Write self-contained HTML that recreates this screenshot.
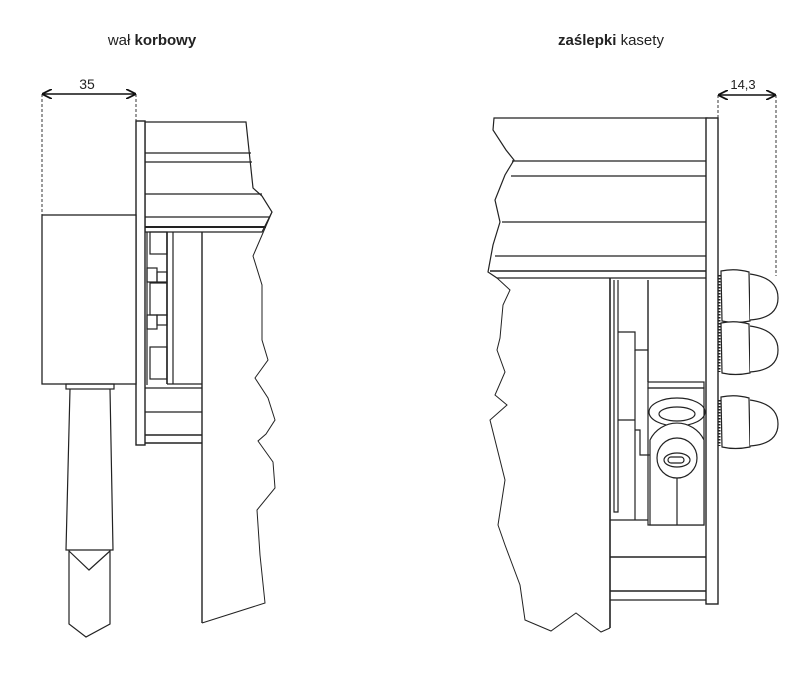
<!DOCTYPE html>
<html><head><style>
html,body{margin:0;padding:0;background:#fff;}
svg{display:block;}
text{font-family:"Liberation Sans",sans-serif;fill:#222;}
</style></head><body>
<svg width="800" height="700" viewBox="0 0 800 700" xmlns="http://www.w3.org/2000/svg">
<defs>
<marker id="ar" markerWidth="10" markerHeight="10" refX="9" refY="5" orient="auto-start-reverse" markerUnits="userSpaceOnUse">
<path d="M0,0 L10,5 L0,10" fill="none" stroke="#111" stroke-width="1.8"/>
</marker>
</defs>
<text x="152" y="45" font-size="15" text-anchor="middle">wał <tspan font-weight="bold">korbowy</tspan></text>
<text x="611" y="45" font-size="15" text-anchor="middle"><tspan font-weight="bold">zaślepki</tspan> kasety</text>
<text x="87" y="89" font-size="14" text-anchor="middle">35</text>
<text x="743" y="89" font-size="13" text-anchor="middle">14,3</text>

<g fill="none" stroke="#222" stroke-width="1.2">
<!-- LEFT dimension -->
<line x1="42" y1="94" x2="42" y2="215" stroke-dasharray="3,2" stroke-width="0.9"/>
<line x1="136" y1="94" x2="136" y2="122" stroke-dasharray="3,2" stroke-width="0.9"/>
<line x1="43" y1="94" x2="135" y2="94" stroke="#111" stroke-width="1.6" marker-start="url(#ar)" marker-end="url(#ar)"/>
<!-- top profile -->
<polygon points="145,122 246,122 253,188 262,196 272,212 262,232 145,232" fill="#fff"/>
<line x1="145" y1="153" x2="251" y2="153"/><line x1="145" y1="162" x2="252" y2="162"/>
<line x1="145" y1="194" x2="262" y2="194"/><line x1="145" y1="217" x2="270" y2="217"/>
<line x1="145" y1="227" x2="266" y2="227" stroke-width="2"/>
<!-- plate -->
<rect x="136" y="121" width="9" height="324" fill="#fff" stroke-width="1.4"/>
<!-- inner -->
<line x1="147" y1="232" x2="147" y2="385"/>
<rect x="150" y="232" width="17" height="22"/>
<rect x="147" y="268" width="10" height="14"/><rect x="157" y="272" width="10" height="10"/>
<rect x="150" y="283" width="17" height="32"/>
<rect x="147" y="315" width="10" height="14"/><rect x="157" y="315" width="10" height="10"/>
<rect x="150" y="347" width="17" height="32"/>
<line x1="167" y1="232" x2="167" y2="384" stroke-width="1.6"/>
<line x1="173" y1="232" x2="173" y2="384"/>
<line x1="202" y1="232" x2="202" y2="623" stroke-width="1.4"/>
<line x1="167" y1="384" x2="202" y2="384"/>
<line x1="145" y1="388" x2="202" y2="388"/><line x1="145" y1="412" x2="202" y2="412"/>
<line x1="145" y1="435" x2="202" y2="435" stroke-width="1.6"/><line x1="145" y1="443" x2="202" y2="443" stroke-width="1.6"/>
<!-- jagged wall -->
<polyline points="272,212 253,256 262,285 262,340 268,360 255,378 268,398 275,420 266,434 258,441 273,462 275,488 257,510 260,555 265,603 202,623" stroke-width="1"/>
<!-- crank box -->
<rect x="42" y="215" width="94" height="169" fill="#fff" stroke-width="1.3"/>
<rect x="66" y="384" width="48" height="5"/>
<!-- handle -->
<polyline points="70,389 66,550 113,550 110,389"/>
<polyline points="69,550 69,624 86,637 110,624 110,550"/>
<polyline points="69,551 89,570 110,551"/>

<!-- RIGHT dimension -->
<line x1="718" y1="95" x2="718" y2="120" stroke-dasharray="3,2" stroke-width="0.9"/>
<line x1="776" y1="95" x2="776" y2="276" stroke-dasharray="3,2" stroke-width="0.9"/>
<line x1="719" y1="95" x2="775" y2="95" stroke="#111" stroke-width="1.6" marker-start="url(#ar)" marker-end="url(#ar)"/>
<!-- top profile -->
<polygon points="494,118 707,118 707,278 497,278 488,272 493,245 500,222 495,200 505,175 514,160 506,150 493,130" fill="#fff"/>
<line x1="512" y1="161" x2="707" y2="161"/><line x1="511" y1="176" x2="707" y2="176"/>
<line x1="502" y1="222" x2="707" y2="222"/><line x1="495" y1="256" x2="707" y2="256"/>
<line x1="490" y1="271" x2="707" y2="271" stroke-width="1.6"/>
<!-- plate -->
<rect x="706" y="118" width="12" height="486" fill="#fff" stroke-width="1.4"/>
<!-- inner -->
<line x1="610" y1="278" x2="610" y2="628" stroke-width="1.6"/>
<polyline points="614,280 614,512 618,512 618,280"/>
<line x1="648" y1="280" x2="648" y2="382" stroke-width="1.4"/>
<polyline points="618,332 635,332 635,350 648,350"/>
<line x1="635" y1="350" x2="635" y2="520"/>
<line x1="618" y1="420" x2="635" y2="420"/>
<polyline points="635,430 640,430 640,455 650,455"/>
<rect x="648" y="382" width="56" height="6"/>
<rect x="648" y="388" width="56" height="137"/>
<ellipse cx="677" cy="412" rx="28" ry="14"/>
<ellipse cx="677" cy="414" rx="18" ry="7"/>
<path d="M650,440 A30,30 0 0 1 704,440 L704,525 L650,525 Z" fill="#fff"/>
<circle cx="677" cy="458" r="20" fill="#fff"/>
<ellipse cx="677" cy="460" rx="13" ry="7"/>
<rect x="668" y="457" width="16" height="6" rx="3"/>
<line x1="677" y1="478" x2="677" y2="525"/>
<line x1="610" y1="520" x2="648" y2="520"/>
<line x1="610" y1="557" x2="706" y2="557" stroke-width="1.6"/>
<line x1="610" y1="591" x2="706" y2="591" stroke-width="1.4"/>
<line x1="610" y1="600" x2="706" y2="600"/>
<!-- jagged wall -->
<polyline points="497,278 510,290 503,305 500,338 497,350 505,372 495,395 507,405 490,420 495,440 505,480 498,525 505,545 520,585 525,620 551,631 576,613 601,632 610,628" stroke-width="1"/>
<!-- caps -->
<g fill="#fff" stroke-width="1.2">
<path d="M721,271 Q735,268 749,272 L750,321 Q735,324 722,321 Z"/>
<path d="M750,274 Q778,278 778,298 Q778,318 750,320"/>
<path d="M721,323 Q735,320 749,324 L750,373 Q735,376 722,373 Z"/>
<path d="M750,326 Q778,330 778,350 Q778,370 750,372"/>
<path d="M721,397 Q735,394 749,398 L750,447 Q735,450 722,447 Z"/>
<path d="M750,400 Q778,404 778,424 Q778,444 750,446"/>
</g>
<g stroke-dasharray="1.5,1.5" stroke-width="2">
<line x1="719.5" y1="275" x2="719.5" y2="372"/>
<line x1="719.5" y1="400" x2="719.5" y2="446"/>
</g>
</g>
</svg>
</body></html>
